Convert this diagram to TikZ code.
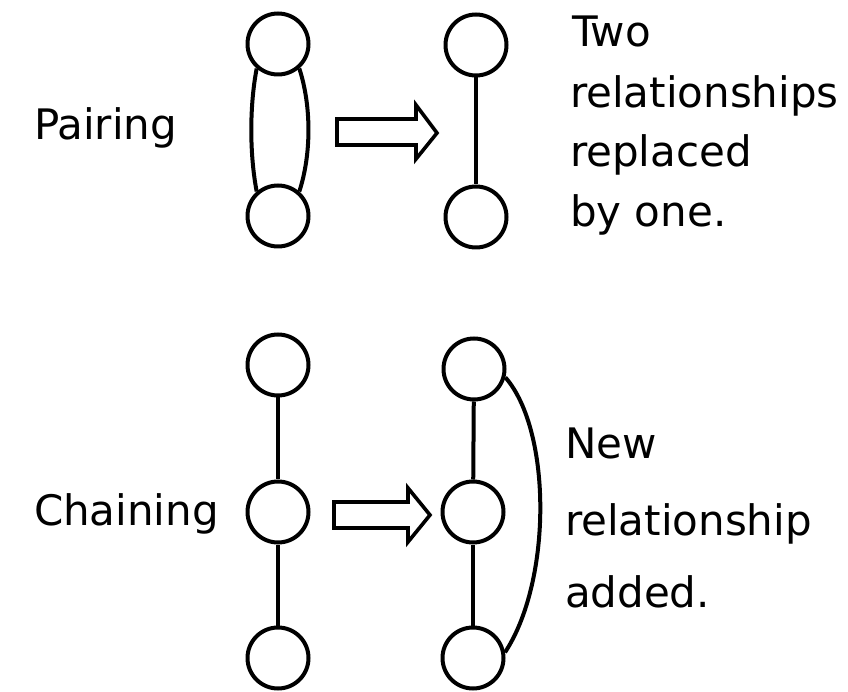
\documentclass[tikz,border=0pt]{standalone}
\usepackage{fontspec}
\setmainfont{DejaVu Sans}
\begin{document}
\begin{tikzpicture}[x=1pt,y=1pt,
  line width=4pt,
  entity/.style={circle,draw,minimum size=61pt,inner sep=0pt},
  blockarrow/.style={draw,line width=3.6pt,line join=miter},
  lbl/.style={anchor=base west,inner sep=0pt,font=\fontsize{42}{50}\selectfont}]
\useasboundingbox (0,0) rectangle (848,691);

% ---- Pairing: before ----
\node[entity] (pl1) at (278,647) {};
\node[entity] (pl2) at (278,475) {};
\draw (pl1.229) .. controls (249.5,585) and (249.5,537) .. (pl2.131);
\draw (pl1.311) .. controls (311.5,585) and (311.5,537) .. (pl2.49);

% ---- Pairing: after ----
\node[entity] (pr1) at (476,646) {};
\node[entity] (pr2) at (476,474) {};
\draw (pr1) -- (pr2);

% ---- Pairing: transform arrow ----
\coordinate (pa0) at (337,572);
\coordinate (pa1) at (416,572);
\coordinate (pa2) at (416,586);
\coordinate (pa3) at (437,558);
\coordinate (pa4) at (416,532);
\coordinate (pa5) at (416,546);
\coordinate (pa6) at (337,546);
\draw[blockarrow] (pa0) -- (pa1) -- (pa2) -- (pa3) -- (pa4) -- (pa5) -- (pa6) -- cycle;

% ---- Chaining: before ----
\node[entity] (cl1) at (278,326) {};
\node[entity] (cl2) at (278,179) {};
\node[entity] (cl3) at (278,33) {};
\draw (cl1) -- (cl2);
\draw (cl2) -- (cl3);

% ---- Chaining: after ----
\node[entity] (cr1) at (474,322) {};
\node[entity] (cr2) at (473,179) {};
\node[entity] (cr3) at (473,33) {};
\draw (cr1) -- (cr2);
\draw (cr2) -- (cr3);
\draw (cr1.345) .. controls (552,260) and (552,110) .. (cr3.10);

% ---- Chaining: transform arrow ----
\coordinate (ca0) at (334,189);
\coordinate (ca1) at (408,189);
\coordinate (ca2) at (408,203);
\coordinate (ca3) at (430,176);
\coordinate (ca4) at (408,149);
\coordinate (ca5) at (408,163);
\coordinate (ca6) at (334,163);
\draw[blockarrow] (ca0) -- (ca1) -- (ca2) -- (ca3) -- (ca4) -- (ca5) -- (ca6) -- cycle;

% ---- Labels ----
\node[lbl] (tpair) at (32,551) {Pairing};
\node[lbl] (tchain) at (32,166) {Chaining};

\node[lbl] (p1) at (570,644) {Two};
\node[lbl] (p2) at (568,583) {relationships};
\node[lbl] (p3) at (568,524) {replaced};
\node[lbl] (p4) at (568,464) {by one.};

\node[lbl] (c1) at (563,233) {New};
\node[lbl] (c2) at (563,156) {relationship};
\node[lbl] (c3) at (563,84) {added.};
\end{tikzpicture}
\end{document}
